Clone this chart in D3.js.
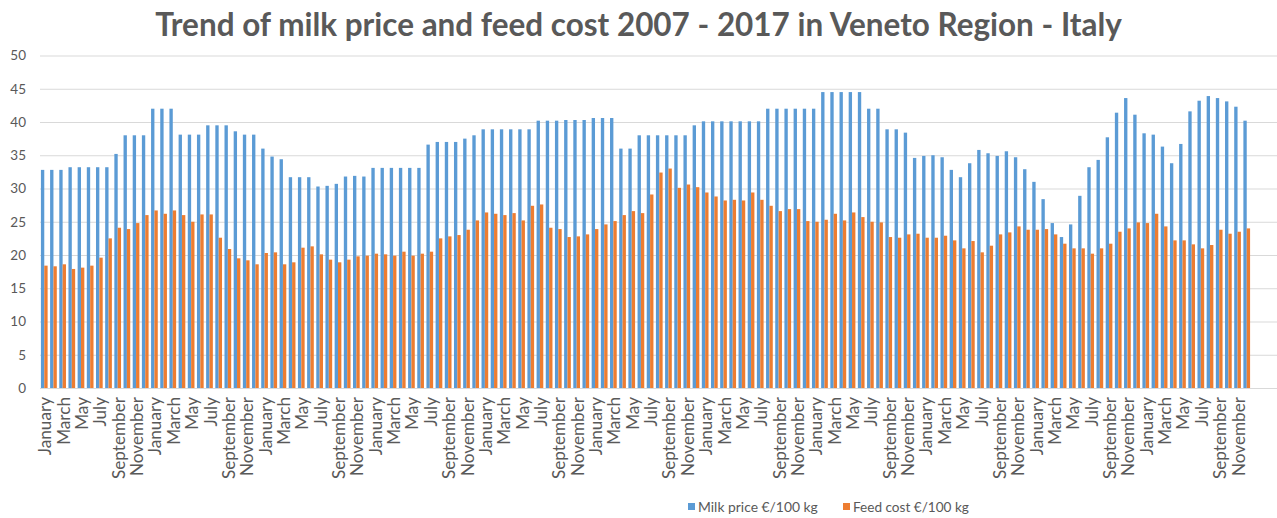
<!DOCTYPE html>
<html>
<head>
<meta charset="utf-8">
<script src="https://cdn.jsdelivr.net/npm/d3@7"></script>
<style>
  html, body { margin: 0; padding: 0; background: #fff; }
  svg { display: block; }
  text { font-family: Lato, "Open Sans", sans-serif; fill: #595959; }
</style>
</head>
<body>
<script>
const monthNames = ["January","February","March","April","May","June","July","August","September","October","November","December"];
const years = [2007,2008,2009,2010,2011,2012,2013,2014,2015,2016,2017];
const yTicks = [0,5,10,15,20,25,30,35,40,45,50];
const seriesNames = ["Milk price €/100 kg", "Feed cost €/100 kg"];
const titleText = "Trend of milk price and feed cost 2007 - 2017 in Veneto Region - Italy";

const milkPrice = [
  32.8,32.8,32.8,33.2,33.2,33.2,33.2,33.2,35.2,38.0,38.0,38.0,
  42.0,42.0,42.0,38.1,38.1,38.1,39.5,39.5,39.5,38.6,38.1,38.1,
  36.0,34.8,34.4,31.7,31.7,31.7,30.3,30.4,30.7,31.8,31.9,31.8,
  33.1,33.1,33.1,33.1,33.1,33.1,36.6,37.0,37.0,37.0,37.5,38.0,
  38.9,38.9,38.9,38.9,38.9,38.9,40.2,40.2,40.2,40.3,40.3,40.3,
  40.6,40.6,40.6,36.0,36.0,38.0,38.0,38.0,38.0,38.0,38.0,39.5,
  40.1,40.1,40.1,40.1,40.1,40.1,40.1,42.0,42.0,42.0,42.0,42.0,
  42.0,44.5,44.5,44.5,44.5,44.5,42.0,42.0,38.9,38.9,38.4,34.6,
  34.9,35.0,34.7,32.8,31.7,33.8,35.8,35.3,34.9,35.6,34.7,32.9,
  31.0,28.4,24.8,22.7,24.6,28.9,33.2,34.3,37.7,41.4,43.6,41.1,
  38.3,38.1,36.3,33.8,36.7,41.6,43.2,43.9,43.6,43.1,42.3,40.2
];
const feedCost = [
  18.4,18.3,18.6,17.9,18.1,18.4,19.6,22.5,24.1,23.9,24.8,26.0,
  26.7,26.2,26.7,26.0,25.0,26.1,26.1,22.6,20.9,19.5,19.2,18.6,
  20.3,20.4,18.6,18.9,21.1,21.3,20.1,19.3,18.9,19.3,19.8,19.9,
  20.2,20.1,19.9,20.5,19.9,20.2,20.5,22.5,22.8,23.0,23.8,25.2,
  26.4,26.2,26.0,26.3,25.2,27.4,27.6,24.1,23.9,22.7,22.8,23.1,
  23.9,24.6,25.1,26.0,26.6,26.3,29.1,32.4,33.0,30.1,30.6,30.2,
  29.4,28.8,28.2,28.3,28.2,29.4,28.3,27.4,26.6,26.9,26.9,25.1,
  25.0,25.3,26.2,25.2,26.4,25.7,25.0,24.9,22.7,22.6,23.1,23.2,
  22.6,22.6,22.9,22.2,21.0,22.1,20.4,21.4,23.1,23.4,24.3,23.8,
  23.8,23.9,23.1,21.7,21.0,21.0,20.2,21.0,21.7,23.5,24.0,24.9,
  24.8,26.2,24.3,22.2,22.2,21.6,21.0,21.5,23.8,23.2,23.5,24.0
];
const colors = ["#5B9BD5", "#ED7D31"];

const W = 1277, H = 518;
const plotLeft = 40, plotRight = 1277, catsEnd = 1251, yBottom = 388, yTop = 55.5;

const data = [];
years.forEach((yr, yi) => monthNames.forEach((m, mi) => {
  const i = yi * 12 + mi;
  data.push({ i, month: m, year: yr, milk: milkPrice[i], feed: feedCost[i] });
}));

const svg = d3.select("body").append("svg").attr("width", W).attr("height", H);

const x = d3.scaleBand().domain(data.map(d => d.i)).range([plotLeft, catsEnd]).paddingInner(0.27).paddingOuter(0.1);
const xs = d3.scaleBand().domain(["milk", "feed"]).range([0, x.bandwidth()]);
const y = d3.scaleLinear().domain([0, 50]).range([yBottom, yTop]);

// gridlines + y labels
const yAxis = d3.axisLeft(y).tickValues(yTicks).tickSize(-(plotRight - plotLeft)).tickPadding(14);
const gy = svg.append("g").attr("transform", `translate(${plotLeft},0)`).call(yAxis);
gy.select(".domain").remove();
gy.selectAll(".tick line").attr("stroke", "#D9D9D9").attr("stroke-width", 1);
gy.selectAll(".tick text").attr("font-size", 13.5).attr("fill", "#595959").style("font-family", "Lato, sans-serif");

// bars
const groups = svg.append("g").selectAll("g").data(data).join("g")
  .attr("transform", d => `translate(${x(d.i)},0)`);
groups.selectAll("rect").data(d => [{k: "milk", v: d.milk}, {k: "feed", v: d.feed}]).join("rect")
  .attr("x", d => xs(d.k))
  .attr("width", xs.bandwidth())
  .attr("y", d => y(d.v))
  .attr("height", d => y(0) - y(d.v))
  .attr("fill", (d, j) => colors[j]);

// x axis
const xAxis = d3.axisBottom(x).tickValues(data.filter(d => d.i % 2 === 0).map(d => d.i))
  .tickFormat(i => monthNames[i % 12]).tickSize(0).tickPadding(0);
const gx = svg.append("g").attr("transform", `translate(0,${yBottom})`).call(xAxis);
gx.select(".domain").remove();
const xLabels = gx.selectAll(".tick text")
  .attr("font-size", 15).attr("fill", "#595959").style("font-family", "Lato, sans-serif")
  .attr("text-anchor", "end")
  .attr("transform", "rotate(-90)")
  .attr("x", -9).attr("y", 1).attr("dy", "0.35em");
// fit label size so "September" is as long as in the reference
const sepNode = xLabels.filter(i => i % 12 === 8).node();
const sepLen = sepNode.getComputedTextLength();
xLabels.attr("font-size", 15 * 82 / sepLen);

svg.append("line").attr("x1", plotLeft).attr("x2", plotRight).attr("y1", yBottom + 0.5).attr("y2", yBottom + 0.5)
  .attr("stroke", "#D9D9D9");

// title
const title = svg.append("text").attr("x", W / 2).attr("y", 36).attr("text-anchor", "middle")
  .attr("font-weight", "bold").attr("font-size", 30).attr("fill", "#595959").text(titleText);
const tw = title.node().getComputedTextLength();
title.attr("font-size", 30 * 967 / tw);

// legend
const legendX = [688, 843];
const lg = svg.append("g");
seriesNames.forEach((n, j) => {
  lg.append("rect").attr("x", legendX[j]).attr("y", 503).attr("width", 7).attr("height", 7).attr("fill", colors[j]);
  const t = lg.append("text").attr("x", legendX[j] + 10).attr("y", 511.5).attr("font-size", 13).attr("fill", "#595959").text(n);
  const len = t.node().getComputedTextLength();
  t.attr("font-size", 13 * (j === 0 ? 120 : 116) / len);
});
</script>
</body>
</html>
